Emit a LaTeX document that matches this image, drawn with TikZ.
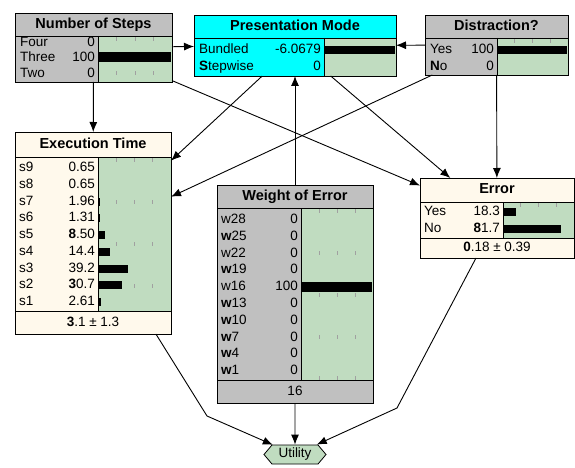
\documentclass[tikz,border=0pt]{standalone}
\usepackage{fontspec}
\setmainfont{Liberation Sans}
\usetikzlibrary{arrows.meta,calc,shapes.symbols}
\definecolor{ngray}{HTML}{C0C0C0}
\definecolor{ncream}{HTML}{FFF9EC}
\definecolor{ncyan}{HTML}{00FFFF}
\definecolor{ngreen}{HTML}{C0DCC0}
\definecolor{ntick}{HTML}{A0A0A0}
\newcommand\fb[1]{\textbf{#1}}
\begin{document}
\begin{tikzpicture}[x=1pt,y=-1pt,
  box/.style={draw=black, line width=0.8pt, inner sep=0pt, outer sep=0pt, anchor=north west},
  ttl/.style={font=\fontsize{14.5}{16}\selectfont\bfseries, inner sep=0pt, anchor=center, text height=10.4pt, text depth=3pt},
  lbl/.style={font=\fontsize{13.5}{15}\selectfont, inner sep=0pt, anchor=west, text height=9.7pt, text depth=2.7pt},
  val/.style={font=\fontsize{13.5}{15}\selectfont, inner sep=0pt, anchor=east, text height=9.7pt, text depth=2.7pt},
  ctr/.style={font=\fontsize{13.5}{15}\selectfont, inner sep=0pt, anchor=center, text height=9.7pt, text depth=2.7pt},
  sep/.style={draw=black, line width=0.8pt},
  tick/.style={draw=ntick, line width=0.6pt},
  arr/.style={draw=black, line width=0.9pt, -{Latex[length=10pt,width=8pt]}},
]
\useasboundingbox (0,0) rectangle (575,468);

% ---------------- Number of Steps ----------------
\node[box, fill=ngray, minimum width=157pt, minimum height=69pt] (nos) at (15,13) {};
\fill[ngreen] (98,36) rectangle (172,82);
\foreach \f in {0.25,0.5,0.75} {\draw[tick] ({98+\f*74},37) -- +(0,4); \draw[tick] ({98+\f*74},71.5) -- +(0,4);}
\fill[black] (98,52.5) rectangle (171,62.5);
\draw[sep] (15,36) -- (172,36); \draw[sep] (98,36) -- (98,82);
\draw[line width=0.8pt] (nos.north west) rectangle (nos.south east);
\node[ttl] (nos-t) at (93.5,24.5) {Number of Steps};
\node[lbl] (nos-l1) at (20,43.5) {Four};  \node[val] (nos-v1) at (95,43.5) {0};
\node[lbl] (nos-l2) at (20,58.5) {Three}; \node[val] (nos-v2) at (95,58.5) {100};
\node[lbl] (nos-l3) at (20,74) {Two};     \node[val] (nos-v3) at (95,74) {0};

% ---------------- Presentation Mode ----------------
\node[box, fill=ncyan, minimum width=202pt, minimum height=61pt] (pm) at (194,15) {};
\fill[ngreen] (324,38) rectangle (396,76);
\fill[black] (324,46) rectangle (395,54);
\draw[sep] (194,38) -- (396,38); \draw[sep] (324,38) -- (324,76);
\draw[line width=0.8pt] (pm.north west) rectangle (pm.south east);
\node[ttl] (pm-t) at (295,26.5) {Presentation Mode};
\node[lbl] (pm-l1) at (199,50) {Bundled};  \node[val] (pm-v1) at (321,50) {-6.0679};
\node[lbl] (pm-l2) at (199,67) {\fb{S}tepwise}; \node[val] (pm-v2) at (321,67) {0};

% ---------------- Distraction? ----------------
\node[box, fill=ngray, minimum width=143pt, minimum height=60pt] (dis) at (425,15) {};
\fill[ngreen] (497,38) rectangle (568,75);
\foreach \f in {0.25,0.5,0.75} {\draw[tick] ({497+\f*71},39) -- +(0,4);}
\fill[black] (497,46) rectangle (567,54);
\draw[sep] (425,38) -- (568,38); \draw[sep] (497,38) -- (497,75);
\draw[line width=0.8pt] (dis.north west) rectangle (dis.south east);
\node[ttl] (dis-t) at (496.5,26.5) {Distraction?};
\node[lbl] (dis-l1) at (430,50) {Yes}; \node[val] (dis-v1) at (494,50) {100};
\node[lbl] (dis-l2) at (430,67) {\fb{N}o}; \node[val] (dis-v2) at (494,67) {0};

% ---------------- Execution Time ----------------
\node[box, fill=ncream, minimum width=156pt, minimum height=202pt] (exec) at (15,132) {};
\fill[ngreen] (98,157) rectangle (171,311);
\foreach \yy in {158,200,242,284} {\foreach \f in {0.25,0.5,0.75} {\draw[tick] ({98+\f*73},\yy) -- +(0,4);}}
\foreach \l/\v/\w [count=\i from 0] in {s9/0.65/0, s8/0.65/0, s7/1.96/2.3, s6/1.31/2, s5/\fb{8}.50/7, s4/14.4/11.5, s3/39.2/30, s2/\fb{3}0.7/23.5, s1/2.61/3} {
  \node[lbl] (exec-l\i) at (19,{168+16.75*\i}) {\l};
  \node[val] (exec-v\i) at (95,{168+16.75*\i}) {\v};
  \fill[black] (98,{168+16.75*\i-4}) rectangle ({98+\w},{168+16.75*\i+4});
}
\draw[sep] (15,157) -- (171,157); \draw[sep] (98,157) -- (98,311); \draw[sep] (15,311) -- (171,311);
\draw[line width=0.8pt] (exec.north west) rectangle (exec.south east);
\node[ttl] (exec-t) at (93,144.5) {Execution Time};
\node[ctr] (exec-f) at (93,322.5) {\fb{3}.1 ± 1.3};

% ---------------- Weight of Error ----------------
\node[box, fill=ngray, minimum width=156pt, minimum height=218pt] (woe) at (217,185) {};
\fill[ngreen] (301,208) rectangle (373,380);
\foreach \yy in {209,251,293,335,376} {\foreach \f in {0.25,0.5,0.75} {\draw[tick] ({301+\f*72},\yy) -- +(0,4);}}
\fill[black] (301,282) rectangle (372,292);
\foreach \l/\v [count=\i from 0] in {w28/0, \fb{w}25/0, w22/0, \fb{w}19/0, w16/100, \fb{w}13/0, \fb{w}10/0, \fb{w}7/0, \fb{w}4/0, \fb{w}1/0} {
  \node[lbl] (woe-l\i) at (221,{220+16.8*\i}) {\l};
  \node[val] (woe-v\i) at (298,{220+16.8*\i}) {\v};
}
\draw[sep] (217,208) -- (373,208); \draw[sep] (301,208) -- (301,380); \draw[sep] (217,380) -- (373,380);
\draw[line width=0.8pt] (woe.north west) rectangle (woe.south east);
\node[ttl] (woe-t) at (295,196.5) {Weight of Error};
\node[ctr] (woe-f) at (295,391.5) {16};

% ---------------- Error ----------------
\node[box, fill=ncream, minimum width=154pt, minimum height=80pt] (err) at (420,178) {};
\fill[ngreen] (503,202) rectangle (574,238);
\foreach \f in {0.25,0.5,0.75} {\draw[tick] ({503+\f*71},203) -- +(0,4);}
\fill[black] (503,208) rectangle (516,216);
\fill[black] (503,225) rectangle (561,233);
\draw[sep] (420,202) -- (574,202); \draw[sep] (503,202) -- (503,238); \draw[sep] (420,238) -- (574,238);
\draw[line width=0.8pt] (err.north west) rectangle (err.south east);
\node[ttl] (err-t) at (497,190) {Error};
\node[lbl] (err-l1) at (424,212) {Yes}; \node[val] (err-v1) at (500,212) {18.3};
\node[lbl] (err-l2) at (424,229) {No};  \node[val] (err-v2) at (500,229) {\fb{8}1.7};
\node[ctr] (err-f) at (497,248) {\fb{0}.18 ± 0.39};

% ---------------- Utility ----------------
\node[signal, signal to=west and east, signal pointer angle=100, draw=black, line width=0.8pt,
      fill=ngreen, minimum width=62pt, minimum height=19pt, inner sep=0pt,
      font=\fontsize{13.5}{15}\selectfont] (util) at (295,454.5) {Utility};

% ---------------- Links ----------------
\coordinate (b1) at (207,416);
\coordinate (b2) at (397,408);
\draw[arr] (nos) -- (pm);
\draw[arr] (dis) -- (pm);
\draw[arr] (nos) -- (exec);
\draw[arr] (nos) -- (err);
\draw[arr] (pm) -- (exec);
\draw[arr] (dis) -- (exec);
\draw[arr] (pm) -- (err);
\draw[arr] (dis) -- (err);
\draw[arr] (woe) -- (pm);
\draw[arr] (woe) -- (util);
\draw[arr] (exec) -- (b1) -- (util);
\draw[arr] (err) -- (b2) -- (util);
\end{tikzpicture}
\end{document}
